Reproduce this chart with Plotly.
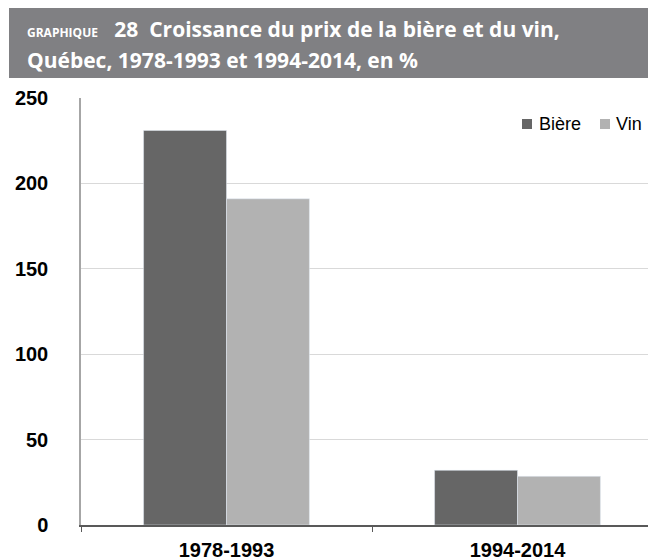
import plotly.graph_objects as go

categories = ["1978-1993", "1994-2014"]
biere = [231, 32]
vin = [191, 28.5]
series_names = ["Bière", "Vin"]
series_colors = ["#666666", "#b2b2b2"]
yticks = [0, 50, 100, 150, 200, 250]

W, H = 656, 560
L, R, T, B = 73, 1, 90, 43
pw, ph = W - L - R, H - T - B

def px_x(x):
    return (x - L) / pw

def px_y(y):
    return (H - B - y) / ph

fig = go.Figure()
fig.add_trace(go.Bar(x=categories, y=biere, name=series_names[0], marker_color=series_colors[0]))
fig.add_trace(go.Bar(x=categories, y=vin, name=series_names[1], marker_color=series_colors[1]))

fig.update_layout(
    width=W, height=H,
    margin=dict(l=L, r=R, t=T, b=B, autoexpand=False),
    paper_bgcolor="white", plot_bgcolor="white",
    barmode="group", bargap=0.43, bargroupgap=0,
    font=dict(family="Liberation Sans", color="black"),
    showlegend=False,
)
fig.update_xaxes(
    range=[-0.5, 1.5], showgrid=False,
    showline=True, linecolor="#595959", linewidth=1.5,
    ticks="outside", tickson="boundaries", ticklen=5, tickcolor="#595959",
    tickfont=dict(family="Liberation Sans", size=20, color="black", weight="bold"),
    ticklabelstandoff=6, fixedrange=True,
)
fig.update_yaxes(
    range=[0, 250], tickvals=yticks, showgrid=True, gridcolor="#d9d9d9", gridwidth=1,
    showline=True, linecolor="#a6a6a6", linewidth=1.5, zeroline=False,
    ticks="", tickfont=dict(family="Liberation Sans", size=20, color="black", weight="bold"),
    ticklabelstandoff=27, fixedrange=True,
)

# header band
fig.add_shape(type="rect", xref="paper", yref="paper",
              x0=px_x(1), x1=px_x(W), y0=px_y(70), y1=px_y(0),
              fillcolor="#808083", line_width=0, layer="above")

fig.add_annotation(xref="paper", yref="paper", x=px_x(17), y=px_y(21),
                   xanchor="left", yanchor="middle", showarrow=False,
                   text="<span style='font-size:12px'>GRAPHIQUE</span>&nbsp;&nbsp;&nbsp;28&nbsp;&nbsp;Croissance du prix de la bière et du vin,",
                   font=dict(family="Open Sans", size=21, color="white", weight="bold"))
fig.add_annotation(xref="paper", yref="paper", x=px_x(17), y=px_y(52),
                   xanchor="left", yanchor="middle", showarrow=False,
                   text="Québec, 1978-1993 et 1994-2014, en %",
                   font=dict(family="Open Sans", size=21, color="white", weight="bold"))

# legend (manual, positioned in pixels)
legend_sq_x = [514, 592]
legend_txt_x = [529, 606]
legend_y = 116
for name, col, sx, tx in zip(series_names, series_colors, legend_sq_x, legend_txt_x):
    fig.add_shape(type="rect", xref="paper", yref="paper",
                  x0=px_x(sx), x1=px_x(sx + 10), y0=px_y(legend_y + 5), y1=px_y(legend_y - 5),
                  fillcolor=col, line_width=0)
    fig.add_annotation(xref="paper", yref="paper", x=px_x(tx), y=px_y(legend_y),
                       xanchor="left", yanchor="middle", showarrow=False, text=name,
                       font=dict(family="Liberation Sans", size=18, color="black"))

fig.write_html("out.html")
